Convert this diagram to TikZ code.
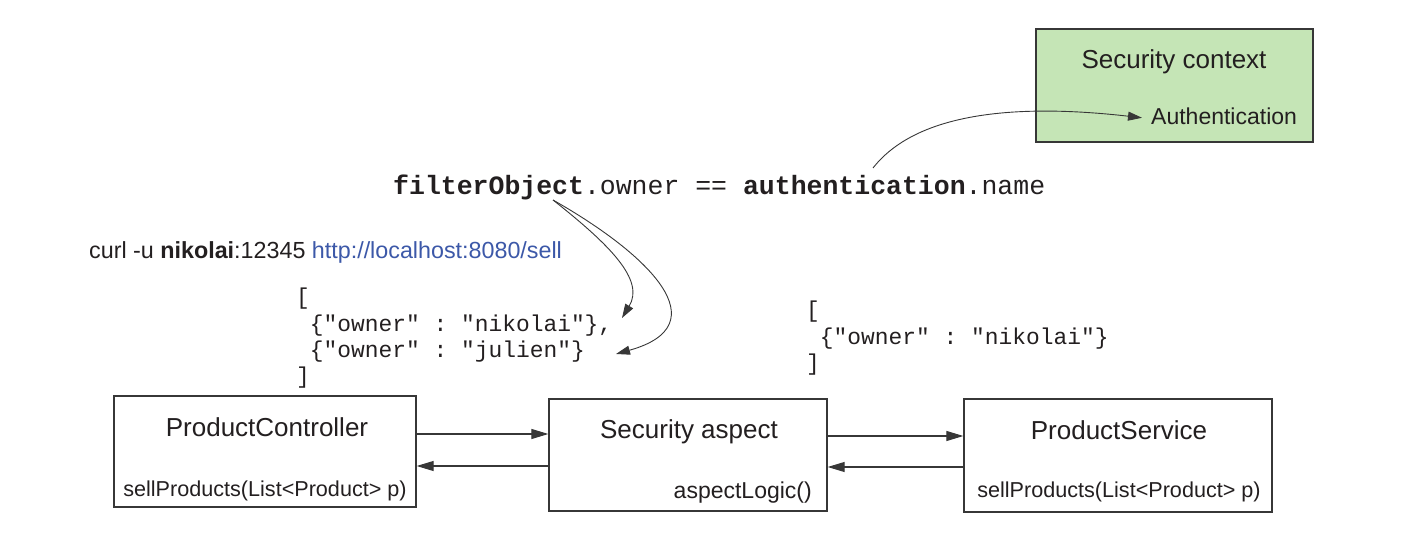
\documentclass[tikz,border=0pt]{standalone}
\usepackage{fontspec}
\setmainfont{Liberation Sans}
\setmonofont{Liberation Mono}
\usetikzlibrary{arrows.meta}
\definecolor{ink}{RGB}{35,31,32}
\definecolor{ctxgreen}{RGB}{197,229,182}
\definecolor{linkblue}{RGB}{60,88,168}
\definecolor{linegray}{RGB}{55,55,55}
\tikzset{
  box/.style={draw=linegray, line width=1.3pt, fill=white, inner sep=0pt},
  ctxbox/.style={box, fill=ctxgreen},
  title/.style={inner sep=0pt, text=ink, anchor=base, font=\fontsize{26}{30}\selectfont},
  sub/.style={inner sep=0pt, text=ink, anchor=base, font=\fontsize{21.6}{26}\selectfont},
  code/.style={inner sep=0pt, text=ink, font=\ttfamily\fontsize{26.5}{30}\selectfont},
  json/.style={inner sep=0pt, text=ink, align=left, anchor=north west, font=\ttfamily\fontsize{22.9}{26.3}\selectfont},
  arr/.style={draw=linegray, line width=1.1pt, -{Triangle[length=17pt,width=10pt]}},
  carr/.style={draw=linegray, line width=0.9pt, -{Triangle[length=14pt,width=9pt]}},
}
\begin{document}
\begin{tikzpicture}[x=1pt,y=-1pt]
\useasboundingbox (0,0) rectangle (1403,537);

% Security context
\node[ctxbox, minimum width=277pt, minimum height=113pt] (ctx) at (1174.5,85.5) {};
\node[title] (ctxt) at (1174,69) {Security context};
\node[sub, anchor=base west, font=\fontsize{23}{26}\selectfont] (auth) at (1151,125) {Authentication};

% expression
\node[code, anchor=base west] (expr) at (393,195) {\textbf{filterObject}.owner == \textbf{authentication}.name};
\coordinate (fref) at (553,200);
\coordinate (aref) at (873,168);

% curl
\node[sub, anchor=base west, font=\fontsize{23.3}{26}\selectfont] (curl) at (89,259) {curl -u \textbf{nikolai}:12345 \textcolor{linkblue}{http://localhost:8080/sell}};

% json
\node[json] (json1) at (296,288) {[\\\phantom{[}\{"owner" : "nikolai"\},\\\phantom{[}\{"owner" : "julien"\}\\]};
\node[json] (json2) at (806,301) {[\\\phantom{[}\{"owner" : "nikolai"\}\\]};

% boxes
\node[box, minimum width=302pt, minimum height=111pt] (pc) at (265,451.5) {};
\node[box, minimum width=278pt, minimum height=112pt] (sa) at (688,455) {};
\node[box, minimum width=308pt, minimum height=113pt] (ps) at (1118,455.5) {};

\node[title] (pct) at (267,436) {ProductController};
\node[sub] (pcs) at (265,496) {sellProducts(List<Product> p)};
\node[title] (sat) at (689,438) {Security aspect};
\node[sub, anchor=base east, font=\fontsize{23}{26}\selectfont] (sas) at (812,498) {aspectLogic()};
\node[title] (pst) at (1119,439) {ProductService};
\node[sub] (pss) at (1119,497) {sellProducts(List<Product> p)};

% connectors between boxes
\draw[arr] (pc.east |- 0,434) -- (sa.west |- 0,434);
\draw[arr] (sa.west |- 0,466) -- (pc.east |- 0,466);
\draw[arr] (sa.east |- 0,436) -- (ps.west |- 0,436);
\draw[arr] (ps.west |- 0,467) -- (sa.east |- 0,467);

% curved connectors
\draw[carr] (aref) .. controls (920,108) and (1030,105) .. ([xshift=-9pt,yshift=-1pt]auth.west);
\draw[carr] (fref) .. controls (610,245) and (645,280) .. (622,318);
\draw[carr] (fref) .. controls (650,255) and (720,325) .. (616,354);
\end{tikzpicture}
\end{document}
